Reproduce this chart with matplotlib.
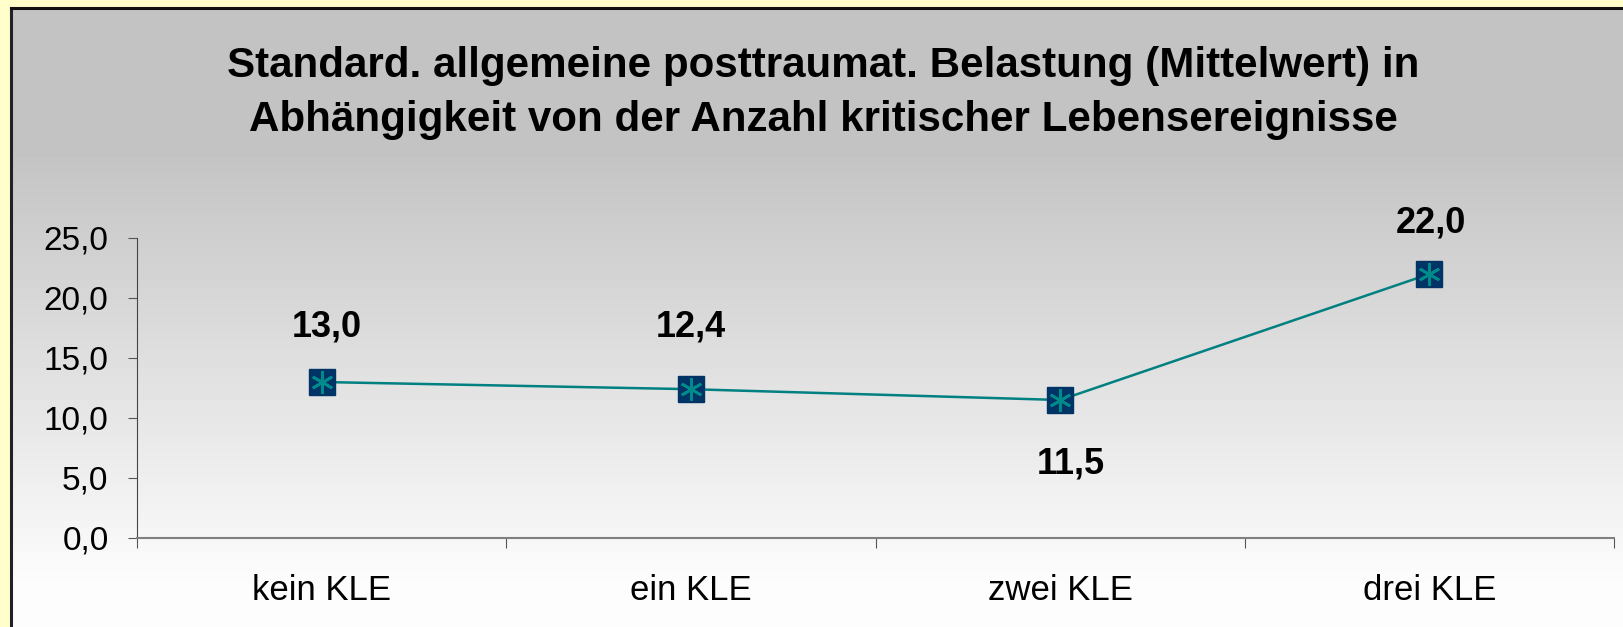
import numpy as np
import matplotlib.pyplot as plt
from matplotlib.lines import Line2D

plt.rcParams["font.family"] = ["Liberation Sans", "DejaVu Sans"]

categories = ["kein KLE", "ein KLE", "zwei KLE", "drei KLE"]
values = [13.0, 12.4, 11.5, 22.0]
labels = ["13,0", "12,4", "11,5", "22,0"]
label_dy = [4.55, 5.15, -5.35, 4.25]
label_dx = [0.015, 0.0, 0.03, 0.005]
yticks = [0, 5, 10, 15, 20, 25]

W, H = 1623, 627
fig = plt.figure(figsize=(W / 100, H / 100), dpi=100)
fig.patch.set_facecolor("#FFFFCC")

# gradient background panel
x0, ytop = 11, 8
bg = fig.add_axes([x0 / W, 0, 1 - x0 / W, 1 - ytop / H], zorder=-1)
rows = np.arange(H - ytop)
g = np.clip((rows - 140) / 440, 0, 1)
g = 195 + (253 - 195) * g
img = np.repeat((g / 255)[:, None], 2, axis=1)
bg.imshow(img, cmap="gray", vmin=0, vmax=1, aspect="auto", extent=[0, 1, 0, 1])
bg.set_axis_off()

fig.add_artist(Line2D([x0 / W, x0 / W], [0, 1 - ytop / H], color="#222222", lw=2.2))
fig.add_artist(Line2D([x0 / W, 1], [1 - ytop / H, 1 - ytop / H], color="#111111", lw=2.2))

fig.text(823 / W, 1 - 93 / H,
         "Standard. allgemeine posttraumat. Belastung (Mittelwert) in\n"
         "Abhängigkeit von der Anzahl kritischer Lebensereignisse",
         ha="center", va="center", fontsize=30.3, fontweight="bold", linespacing=1.47)

ax = fig.add_axes([137 / W, 1 - 538 / H, (1614 - 137) / W, (538 - 238) / H])
ax.set_facecolor("none")
x = np.arange(len(categories))
ax.plot(x, values, color="#008080", lw=1.8, zorder=3)
ax.plot(x, values, ls="none", marker="s", ms=18.5, mfc="#003366", mec="#003366", zorder=4)
ax.plot(x, values, ls="none", marker=(6, 2, 0), ms=16, mec="#008B8B", mew=1.9, zorder=5)

for xi, v, lab, dx, dy in zip(x, values, labels, label_dx, label_dy):
    ax.text(xi + dx, v + dy, lab, ha="center", va="center", fontsize=26, fontweight="bold")

ax.set_xlim(-0.5, 3.5)
ax.set_ylim(0, 25)
ax.set_yticks(yticks)
ax.set_yticklabels([f"{t:.1f}".replace(".", ",") for t in yticks], fontsize=24)
ax.set_xticks(np.arange(-0.5, 4, 1))
ax.set_xticklabels([])
ax.set_xticks(x, minor=True)
ax.set_xticklabels(categories, minor=True, fontsize=25)
ax.tick_params(axis="x", which="major", length=7, color="#555555", direction="out")
ax.tick_params(axis="x", which="minor", length=0, pad=26)
ax.tick_params(axis="y", length=6.5, color="#555555", pad=14)
for s in ["top", "right"]:
    ax.spines[s].set_visible(False)
ax.spines["left"].set_color("#444444")
ax.spines["bottom"].set_color("#808080")
ax.spines["bottom"].set_linewidth(1.5)

fig.savefig("out.png", dpi=100, facecolor=fig.get_facecolor())
